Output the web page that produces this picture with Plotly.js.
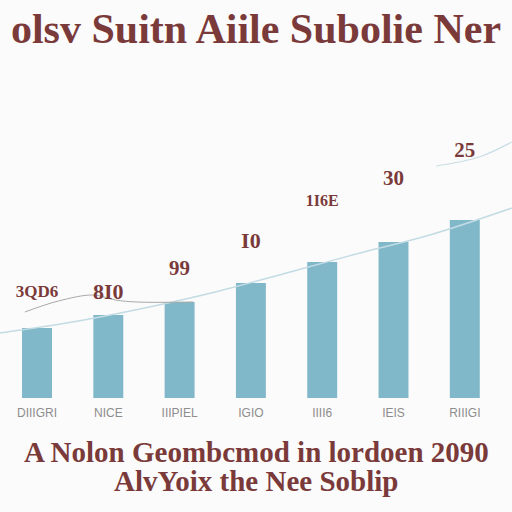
<!DOCTYPE html>
<html><head><meta charset="utf-8">
<script src="https://cdn.plot.ly/plotly-3.0.1.min.js"></script>
<style>html,body{margin:0;padding:0;background:#fbfbfb}</style>
</head><body>
<div id="chart" style="width:512px;height:512px"></div>
<script>
// Data
var categories = ["DIIIGRI", "NICE", "IIIPIEL", "IGIO", "IIII6", "IEIS", "RIIIGI"];
var barValues = [70, 83, 96, 115, 136, 156, 178];
var barLabels = ["3QD6", "8I0", "99", "I0", "1I6E", "30", "25"];
var labelValues = [105, 105, 128, 156, 196, 218, 246];
var labelSizes = [17, 22, 21, 22, 16, 21, 21];
var trendX = [-0.52, 0.5, 1.51, 2.5, 3.55, 4.53, 5.51, 6.66];
var trendValues = [65, 76, 90, 106, 126, 145, 163, 190];
var sketchX = [-0.17, 0.3, 0.79, 1.1, 1.4, 2.19];
var sketchValues = [86, 97, 103, 98, 96, 96];
var upperX = [5.6, 6.2, 6.66];
var upperValues = [232, 241, 256];
var titleText = "olsv Suitn Aiile Subolie Ner";
var captionLines = ["A Nolon Geombcmod in lordoen 2090", "AlvYoix the Nee Soblip"];

var idx = categories.map(function(c, i){ return i; });
var red = "#7a3a3a";

var traces = [
  {type: "bar", x: idx, y: barValues, width: 0.42,
   marker: {color: "#80b7c9"}, hoverinfo: "skip"},
  {type: "scatter", mode: "lines", x: trendX, y: trendValues,
   line: {color: "#c3dce4", width: 1.5, shape: "spline"}, hoverinfo: "skip"},
  {type: "scatter", mode: "lines", x: sketchX, y: sketchValues,
   line: {color: "#a9a9a9", width: 1, shape: "spline"}, hoverinfo: "skip"},
  {type: "scatter", mode: "lines", x: upperX, y: upperValues,
   line: {color: "#c8dde4", width: 1.2, shape: "spline"}, hoverinfo: "skip"},
  {type: "scatter", mode: "text", x: idx, y: labelValues, text: barLabels,
   textfont: {family: "Liberation Serif", size: labelSizes, color: red, weight: "bold"},
   hoverinfo: "skip"}
];

var layout = {
  width: 512, height: 512,
  margin: {l: 0, r: 0, t: 100, b: 114},
  paper_bgcolor: "#fbfbfb", plot_bgcolor: "#fbfbfb",
  showlegend: false,
  title: {text: titleText, x: 0.5, xanchor: "center", y: 0.945, yanchor: "middle",
          font: {family: "Liberation Serif", size: 42, color: red, weight: "bold"}},
  xaxis: {range: [-0.519, 6.662], tickvals: idx, ticktext: categories,
          showgrid: false, zeroline: false, showline: false, ticks: "",
          tickfont: {family: "Liberation Sans Narrow, Liberation Sans", size: 12, color: "#8d8d8d"},
          ticklabelstandoff: 6, fixedrange: true},
  yaxis: {range: [0, 298], visible: false, fixedrange: true},
  annotations: [
    {text: captionLines[0], xref: "paper", yref: "paper", x: 0.5, y: -0.18,
     xanchor: "center", yanchor: "middle", showarrow: false,
     font: {family: "Liberation Serif", size: 29, color: red, weight: "bold"}},
    {text: captionLines[1], xref: "paper", yref: "paper", x: 0.5, y: -0.28,
     xanchor: "center", yanchor: "middle", showarrow: false,
     font: {family: "Liberation Serif", size: 29, color: red, weight: "bold"}}
  ]
};

Plotly.newPlot("chart", traces, layout, {displayModeBar: false, staticPlot: true});
</script>
</body></html>
